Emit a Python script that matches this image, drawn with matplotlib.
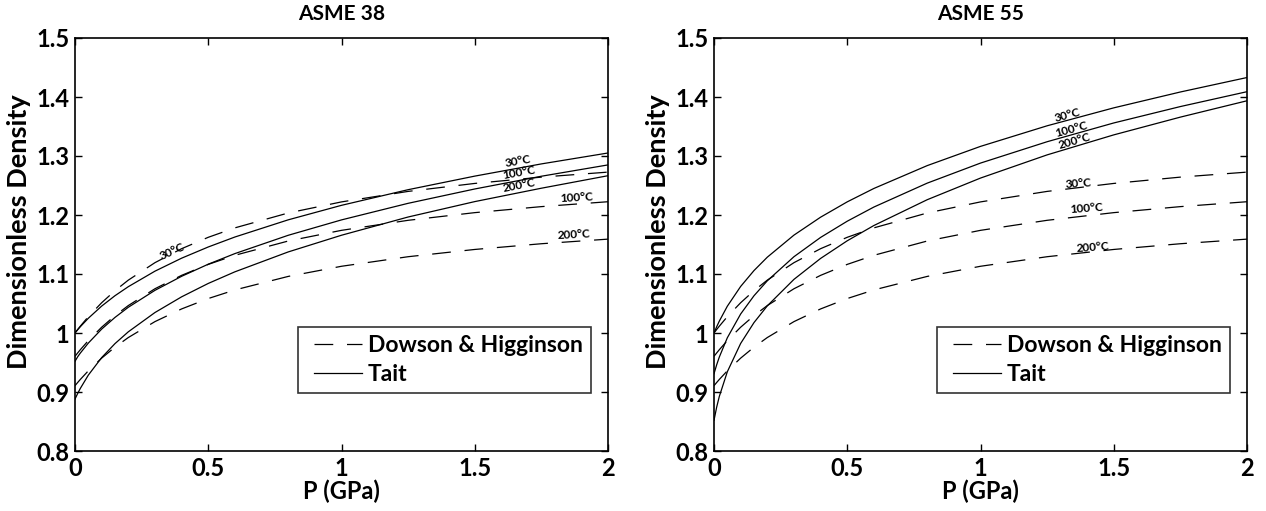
import matplotlib
matplotlib.use("Agg")
import matplotlib.pyplot as plt
from matplotlib.legend_handler import HandlerLine2D

# Pressure grid (GPa)
pressure = [0, 0.01, 0.02, 0.05, 0.1, 0.15, 0.2, 0.3, 0.4, 0.5, 0.6, 0.8, 1.0, 1.25, 1.5, 1.75, 2.0]

# Dowson & Higginson (same in both panels)
dh_30 = [1.000, 1.0059, 1.0116, 1.0277, 1.0513, 1.0717, 1.0896, 1.1192, 1.1429, 1.1622, 1.1782, 1.2034, 1.2222, 1.2400, 1.2535, 1.2642, 1.2727]
dh_100 = [0.9605, 0.9662, 0.9717, 0.9871, 1.0098, 1.0294, 1.0465, 1.0750, 1.0977, 1.1163, 1.1317, 1.1559, 1.1740, 1.1910, 1.2040, 1.2142, 1.2225]
dh_200 = [0.9107, 0.9161, 0.9213, 0.9359, 0.9574, 0.9760, 0.9923, 1.0193, 1.0408, 1.0584, 1.0730, 1.0959, 1.1131, 1.1293, 1.1416, 1.1513, 1.1591]

# Tait - ASME 38
t38_30 = [1.000, 1.0055, 1.0107, 1.0250, 1.0456, 1.0632, 1.0785, 1.1048, 1.1268, 1.1458, 1.1627, 1.1918, 1.2164, 1.2429, 1.2659, 1.2866, 1.3051]
t38_100 = [0.952, 0.9597, 0.9660, 0.9829, 1.0066, 1.0264, 1.0436, 1.0723, 1.0961, 1.1166, 1.1346, 1.1656, 1.1917, 1.2198, 1.2441, 1.2657, 1.2849]
t38_200 = [0.888, 0.8975, 0.9061, 0.9286, 0.9583, 0.9820, 1.0020, 1.0347, 1.0613, 1.0840, 1.1037, 1.1374, 1.1657, 1.1966, 1.2227, 1.2454, 1.2666]

# Tait - ASME 55
t55_30 = [1.000, 1.0105, 1.0202, 1.0454, 1.0789, 1.1058, 1.1285, 1.1659, 1.1963, 1.2223, 1.2450, 1.2837, 1.3163, 1.3512, 1.3816, 1.4085, 1.4330]
t55_100 = [0.931, 0.9461, 0.9593, 0.9919, 1.0322, 1.0631, 1.0885, 1.1293, 1.1620, 1.1895, 1.2135, 1.2540, 1.2880, 1.3242, 1.3560, 1.3838, 1.4090]
t55_200 = [0.852, 0.8743, 0.8926, 0.9343, 0.9823, 1.0176, 1.0460, 1.0909, 1.1264, 1.1563, 1.1822, 1.2259, 1.2626, 1.3019, 1.3358, 1.3659, 1.3936]

titles = ["ASME 38", "ASME 55"]
legend_labels = ["Dowson & Higginson", "Tait"]
xticks = [0, 0.5, 1, 1.5, 2]
xtick_labels = ["0", "0.5", "1", "1.5", "2"]
yticks = [0.8, 0.9, 1.0, 1.1, 1.2, 1.3, 1.4, 1.5]
ytick_labels = ["0.8", "0.9", "1", "1.1", "1.2", "1.3", "1.4", "1.5"]

# label anchor positions (text, P, density, rotation)
labels_38 = [
    ("30\u00b0C", 0.364, 1.139, 24),
    ("30\u00b0C", 1.662, 1.291, 10),
    ("100\u00b0C", 1.666, 1.272, 10),
    ("200\u00b0C", 1.666, 1.250, 11),
    ("100\u00b0C", 1.884, 1.230, 3),
    ("200\u00b0C", 1.872, 1.167, 3),
]
labels_55 = [
    ("30\u00b0C", 1.328, 1.369, 15),
    ("100\u00b0C", 1.340, 1.345, 15),
    ("200\u00b0C", 1.351, 1.325, 16),
    ("30\u00b0C", 1.366, 1.254, 4),
    ("100\u00b0C", 1.396, 1.212, 4),
    ("200\u00b0C", 1.422, 1.146, 4),
]

FONT = "Lato"
plt.rcParams["font.family"] = [FONT, "DejaVu Sans"]

fig = plt.figure(figsize=(12.66, 5.11), dpi=100)
ax1 = fig.add_axes([75 / 1266, 1 - 451 / 511, 533 / 1266, 413 / 511])
ax2 = fig.add_axes([714 / 1266, 1 - 451 / 511, 533 / 1266, 413 / 511])

dash = (0, (15, 11))
lw = 0.9

panels = [
    (ax1, [t38_30, t38_100, t38_200], labels_38, titles[0]),
    (ax2, [t55_30, t55_100, t55_200], labels_55, titles[1]),
]

for ax, tait, lbls, title in panels:
    dh_lines = []
    for series in [dh_30, dh_100, dh_200]:
        ln, = ax.plot(pressure, series, color="black", lw=lw, ls=dash)
        dh_lines.append(ln)
    tait_lines = []
    for series in tait:
        ln, = ax.plot(pressure, series, color="black", lw=lw, ls="-")
        tait_lines.append(ln)
    ax.set_xlim(0, 2)
    ax.set_ylim(0.8, 1.5)
    ax.set_xticks(xticks)
    ax.set_xticklabels(xtick_labels)
    ax.set_yticks(yticks)
    ax.set_yticklabels(ytick_labels)
    ax.tick_params(direction="in", length=5, width=1, top=True, right=True,
                   labelsize=17, pad=4)
    for lab in ax.get_xticklabels() + ax.get_yticklabels():
        lab.set_fontweight("bold")
    for sp in ax.spines.values():
        sp.set_linewidth(1.2)
    ax.set_xlabel("P (GPa)", fontsize=17, fontweight="bold", labelpad=0)
    ax.set_ylabel("Dimensionless Density", fontsize=19.5, fontweight="bold")
    ax.yaxis.set_label_coords(-0.083, 0.53)
    ax.set_title(title, fontsize=15, fontweight="bold", pad=13)
    for txt, px, py, rot in lbls:
        ax.text(px, py, txt, fontsize=8.5, fontweight="bold", rotation=rot,
                ha="center", va="center", rotation_mode="anchor")
    hm = {dh_lines[0]: HandlerLine2D(xpad=0.35), tait_lines[0]: HandlerLine2D(xpad=0.35)}
    leg = ax.legend([dh_lines[0], tait_lines[0]], legend_labels,
                    loc="upper left", bbox_to_anchor=(223 / 533, 124 / 413),
                    frameon=True, fancybox=False, edgecolor="black",
                    prop={"size": 16.5, "weight": "bold"}, handlelength=2.45,
                    handletextpad=0.25, borderpad=0.35, labelspacing=0.33,
                    borderaxespad=0, handler_map=hm)
    leg.get_frame().set_linewidth(1.2)

fig.savefig("out.png", dpi=100)
